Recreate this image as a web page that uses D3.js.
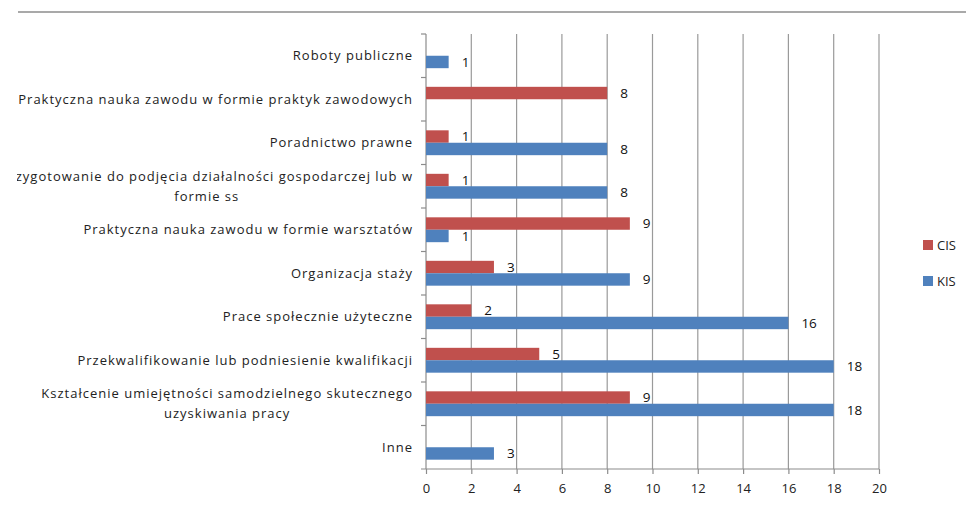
<!DOCTYPE html>
<html>
<head>
<meta charset="utf-8">
<script src="https://cdn.jsdelivr.net/npm/d3@7"></script>
<style>
  body { margin: 0; background: #fff; }
  text { font-family: "Open Sans", sans-serif; }
</style>
</head>
<body>
<div class="chart"></div>
<script>
// categories top to bottom, "\n" marks a wrapped line
var categories = [
  "Roboty publiczne",
  "Praktyczna nauka zawodu w formie praktyk zawodowych",
  "Poradnictwo prawne",
  "Przygotowanie do podjęcia działalności gospodarczej lub w\nformie ss",
  "Praktyczna nauka zawodu w formie warsztatów",
  "Organizacja staży",
  "Prace społecznie użyteczne",
  "Przekwalifikowanie lub podniesienie kwalifikacji",
  "Kształcenie umiejętności samodzielnego skutecznego\nuzyskiwania pracy",
  "Inne"
];
var seriesNames = ["CIS", "KIS"];
var cisValues = [null, 8, 1, 1, 9, 3, 2, 5, 9, null];
var kisValues = [1, null, 8, 8, 1, 9, 16, 18, 18, 3];
var xTicks = [0, 2, 4, 6, 8, 10, 12, 14, 16, 18, 20];

var colors = { CIS: "#C0504D", KIS: "#4F81BD" };

var svgWidth = 966;
var svgHeight = 508;

var margin = { top: 34, right: 87, bottom: 39, left: 426 };
var width = svgWidth - margin.left - margin.right;
var height = svgHeight - margin.top - margin.bottom;

var svg = d3.select(".chart")
  .append("svg")
  .attr("width", svgWidth)
  .attr("height", svgHeight);

// left edge of the picture is cut off
svg.append("clipPath").attr("id", "clip")
  .append("rect").attr("x", 17).attr("y", 0).attr("width", svgWidth).attr("height", svgHeight);

// top rule
svg.append("line")
  .attr("x1", 18).attr("x2", svgWidth)
  .attr("y1", 12).attr("y2", 12)
  .attr("stroke", "#8c8c8c").attr("stroke-width", 1.5);

var chartGroup = svg.append("g")
  .attr("transform", `translate(${margin.left}, ${margin.top})`);

var xScale = d3.scaleLinear().domain([0, 20]).range([0, width]);

var yScale = d3.scaleBand().domain(categories).range([0, height]).padding(0);

var sub = d3.scaleBand().domain(seriesNames)
  .range([0, yScale.bandwidth()])
  .paddingInner(0).paddingOuter(0.75);

// gridlines
chartGroup.append("g")
  .selectAll("line")
  .data(xTicks.slice(1))
  .enter()
  .append("line")
  .attr("x1", d => xScale(d)).attr("x2", d => xScale(d))
  .attr("y1", 0).attr("y2", height)
  .attr("stroke", "#9a9a9a").attr("stroke-width", 1.2);

// bottom axis
var bottomAxis = d3.axisBottom(xScale).tickValues(xTicks).tickSize(5).tickSizeOuter(0);
var xAxisG = chartGroup.append("g")
  .attr("transform", `translate(0, ${height})`)
  .call(bottomAxis);
xAxisG.select(".domain").attr("stroke", "#8c8c8c").attr("stroke-width", 1.2)
  .attr("d", `M-5,0H${width}`);
xAxisG.selectAll(".tick line").attr("stroke", "#8c8c8c").attr("stroke-width", 1.2);
xAxisG.selectAll(".tick text")
  .attr("font-size", 13).attr("fill", "#222").attr("dy", "1.25em")
  .style("font-family", "Open Sans, sans-serif");

// left axis line + ticks at band boundaries
chartGroup.append("line")
  .attr("x1", 0).attr("x2", 0).attr("y1", 0).attr("y2", height)
  .attr("stroke", "#8c8c8c").attr("stroke-width", 1.2);
chartGroup.append("g")
  .selectAll("line")
  .data(categories)
  .enter()
  .append("line")
  .attr("x1", -5).attr("x2", 0)
  .attr("y1", d => yScale(d)).attr("y2", d => yScale(d))
  .attr("stroke", "#8c8c8c").attr("stroke-width", 1.2);

// bars
var rows = [];
categories.forEach(function(c, i) {
  rows.push({ cat: c, series: "CIS", value: cisValues[i] });
  rows.push({ cat: c, series: "KIS", value: kisValues[i] });
});
rows = rows.filter(d => d.value !== null);

chartGroup.selectAll("rect.bar")
  .data(rows)
  .enter()
  .append("rect")
  .attr("class", "bar")
  .attr("x", 0)
  .attr("y", d => yScale(d.cat) + sub(d.series))
  .attr("width", d => xScale(d.value))
  .attr("height", sub.bandwidth())
  .attr("fill", d => colors[d.series]);

// data labels
chartGroup.selectAll("text.val")
  .data(rows)
  .enter()
  .append("text")
  .attr("class", "val")
  .attr("x", d => xScale(d.value) + 13)
  .attr("y", d => yScale(d.cat) + sub(d.series) + sub.bandwidth() / 2)
  .attr("dy", "0.35em")
  .attr("font-size", 13.5)
  .attr("fill", "#111")
  .text(d => d.value);

// category labels
var labelG = svg.append("g").attr("clip-path", "url(#clip)");
categories.forEach(function(c) {
  var lines = c.split("\n");
  var t = labelG.append("text")
    .attr("font-size", 13)
    .attr("fill", "#222")
    .attr("letter-spacing", 1.0);
  var cy = margin.top + yScale(c) + yScale.bandwidth() / 2;
  var lh = 20;
  lines.forEach(function(l, j) {
    t.append("tspan")
      .attr("y", cy + (j - (lines.length - 1) / 2) * lh)
      .attr("dy", "0.35em")
      .text(l);
  });
  // right-align the block, center lines inside it
  var widths = [];
  t.selectAll("tspan").each(function() { widths.push(this.getComputedTextLength()); });
  var maxW = d3.max(widths);
  var right = 413;
  t.selectAll("tspan")
    .attr("text-anchor", "middle")
    .attr("x", right - maxW / 2);
});

// legend
var legend = svg.append("g");
seriesNames.forEach(function(s, i) {
  var ly = 245 + i * 36;
  legend.append("rect")
    .attr("x", 923).attr("y", ly - 5)
    .attr("width", 10).attr("height", 10)
    .attr("fill", colors[s]);
  legend.append("text")
    .attr("x", 937).attr("y", ly)
    .attr("dy", "0.35em")
    .attr("font-size", 13)
    .attr("fill", "#222")
    .text(s);
});
</script>
</body>
</html>
